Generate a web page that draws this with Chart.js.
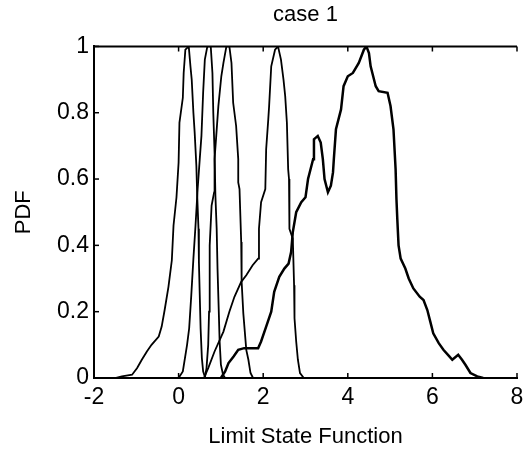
<!DOCTYPE html>
<html>
<head>
<meta charset="utf-8">
<script src="https://cdn.jsdelivr.net/npm/chart.js@4/dist/chart.umd.min.js"></script>
<style>
  html, body { margin: 0; padding: 0; background: #fff; }
  #wrap { width: 523px; height: 452px; }
</style>
</head>
<body>
<div id="wrap"><canvas id="chart-pdf" width="523" height="452"></canvas></div>
<script>
const xTicks = [-2, 0, 2, 4, 6, 8];
const yTicks = [0, 0.2, 0.4, 0.6, 0.8, 1];

// five PDF curves, each scaled to a peak of 1
const curveAX = [-1.5, -1.34, -1.2, -1.1, -0.98, -0.87, -0.75, -0.64, -0.47, -0.4, -0.33, -0.24, -0.16, -0.12, -0.05, 0.0, 0.02, 0.1, 0.12, 0.16, 0.24, 0.28, 0.31, 0.35, 0.38, 0.42, 0.44, 0.47, 0.48, 0.5, 0.52, 0.55, 0.58, 0.63];
const curveAY = [0, 0.005, 0.008, 0.01, 0.03, 0.055, 0.08, 0.1, 0.125, 0.155, 0.205, 0.275, 0.355, 0.46, 0.545, 0.65, 0.77, 0.845, 0.92, 0.99, 1.0, 0.94, 0.9, 0.8, 0.74, 0.64, 0.55, 0.45, 0.35, 0.25, 0.15, 0.06, 0.02, 0];

const curveBX = [0.0, 0.1, 0.2, 0.25, 0.3, 0.35, 0.4, 0.45, 0.5, 0.54, 0.58, 0.62, 0.68, 0.76, 0.8, 0.82, 0.85, 0.87, 0.9, 0.92, 0.95, 0.97, 1.0, 1.05, 1.1];
const curveBY = [0, 0.02, 0.1, 0.15, 0.25, 0.36, 0.46, 0.57, 0.66, 0.73, 0.86, 0.96, 1.0, 1.0, 0.92, 0.8, 0.68, 0.55, 0.45, 0.33, 0.2, 0.11, 0.04, 0.01, 0];

const curveCX = [0.62, 0.66, 0.7, 0.72, 0.73, 0.74, 0.78, 0.84, 0.85, 0.89, 0.94, 1.01, 1.06, 1.13, 1.2, 1.25, 1.29, 1.36, 1.41, 1.41, 1.44, 1.48, 1.49, 1.53, 1.6, 1.65, 1.7, 1.76];
const curveCY = [0, 0.03, 0.1, 0.2, 0.33, 0.4, 0.52, 0.56, 0.66, 0.73, 0.82, 0.91, 0.95, 1.0, 1.0, 0.95, 0.83, 0.76, 0.66, 0.59, 0.57, 0.41, 0.29, 0.195, 0.085, 0.055, 0.015, 0];

const curveDX = [0.6, 0.7, 0.85, 1.06, 1.2, 1.32, 1.48, 1.6, 1.75, 1.88, 1.9, 1.95, 2.05, 2.07, 2.12, 2.14, 2.19, 2.28, 2.35, 2.42, 2.48, 2.52, 2.56, 2.59, 2.61, 2.62, 2.7, 2.73, 2.74, 2.78, 2.82, 2.87, 2.96];
const curveDY = [0, 0.03, 0.08, 0.14, 0.2, 0.245, 0.29, 0.31, 0.34, 0.36, 0.45, 0.53, 0.57, 0.69, 0.78, 0.82, 0.94, 0.99, 1.0, 0.96, 0.9, 0.85, 0.77, 0.63, 0.6, 0.45, 0.42, 0.28, 0.18, 0.11, 0.055, 0.015, 0];

const curveEX = [1.0, 1.1, 1.18, 1.3, 1.41, 1.55, 1.88, 1.95, 2.07, 2.19, 2.26, 2.38, 2.5, 2.6, 2.66, 2.7, 2.78, 2.9, 3.0, 3.06, 3.18, 3.2, 3.29, 3.36, 3.41, 3.45, 3.53, 3.6, 3.65, 3.67, 3.72, 3.84, 3.9, 4.0, 4.12, 4.26, 4.38, 4.44, 4.5, 4.54, 4.66, 4.73, 4.94, 5.01, 5.08, 5.13, 5.15, 5.17, 5.2, 5.25, 5.36, 5.44, 5.55, 5.7, 5.79, 5.88, 5.95, 6.02, 6.15, 6.26, 6.4, 6.47, 6.61, 6.7, 6.78, 6.9, 7.06, 7.2];
const curveEY = [0, 0.02, 0.045, 0.065, 0.085, 0.09, 0.09, 0.11, 0.155, 0.2, 0.26, 0.305, 0.33, 0.345, 0.38, 0.44, 0.5, 0.53, 0.545, 0.6, 0.66, 0.72, 0.73, 0.71, 0.66, 0.6, 0.56, 0.58, 0.62, 0.66, 0.75, 0.81, 0.88, 0.91, 0.92, 0.95, 0.99, 1.0, 0.98, 0.94, 0.88, 0.865, 0.86, 0.82, 0.75, 0.63, 0.54, 0.48, 0.4, 0.36, 0.33, 0.3, 0.27, 0.245, 0.235, 0.205, 0.17, 0.135, 0.105, 0.085, 0.065, 0.055, 0.07, 0.055, 0.04, 0.015, 0.005, 0];

const curves = [
  [curveAX, curveAY],
  [curveBX, curveBY],
  [curveCX, curveCY],
  [curveDX, curveDY],
  [curveEX, curveEY]
];

const FONT = "'Liberation Sans', Arial, sans-serif";

// inward tick marks plus the top frame line
const frameTicks = {
  id: "frameTicks",
  afterDraw(chart) {
    const { ctx, chartArea } = chart;
    const xs = chart.scales.x;
    const ys = chart.scales.y;
    ctx.save();
    ctx.strokeStyle = "#000";
    ctx.lineWidth = 2;
    ctx.beginPath();
    ctx.moveTo(chartArea.left - 1, chartArea.top);
    ctx.lineTo(chartArea.right, chartArea.top);
    ctx.stroke();
    ctx.lineWidth = 1.5;
    xTicks.forEach(v => {
      const px = xs.getPixelForValue(v);
      ctx.beginPath();
      ctx.moveTo(px, chartArea.bottom);
      ctx.lineTo(px, chartArea.bottom - 5);
      ctx.moveTo(px, chartArea.top);
      ctx.lineTo(px, chartArea.top + 5);
      ctx.stroke();
    });
    yTicks.forEach(v => {
      const py = ys.getPixelForValue(v);
      ctx.beginPath();
      ctx.moveTo(chartArea.left, py);
      ctx.lineTo(chartArea.left + 5, py);
      ctx.stroke();
    });
    ctx.restore();
  }
};

new Chart(document.getElementById("chart-pdf").getContext("2d"), {
  type: "line",
  data: {
    datasets: curves.map(([xs, ys], i) => ({
      data: xs.map((x, k) => ({ x, y: ys[k] })),
      borderColor: "#000",
      borderWidth: i === 4 ? 2.5 : 1.8,
      pointRadius: 0,
      tension: 0,
      fill: false
    }))
  },
  options: {
    responsive: false,
    animation: false,
    layout: { padding: { left: 0, right: 6, top: 0, bottom: 0 } },
    plugins: {
      legend: { display: false },
      tooltip: { enabled: false },
      title: {
        display: true,
        text: "case 1",
        fullSize: false,
        color: "#000",
        font: { family: FONT, size: 22, weight: "normal" },
        padding: { top: 2, bottom: 18 }
      }
    },
    scales: {
      x: {
        type: "linear",
        min: -2,
        max: 8,
        afterBuildTicks: scale => { scale.ticks = xTicks.map(v => ({ value: v })); },
        afterFit: scale => { scale.height = 74; scale.paddingLeft = 0; scale.paddingRight = 0; },
        grid: { display: false, drawTicks: false },
        border: { display: true, color: "#000", width: 2 },
        ticks: { color: "#000", padding: 6, maxRotation: 0, font: { family: FONT, size: 23 } },
        title: {
          display: true,
          text: "Limit State Function",
          color: "#000",
          font: { family: FONT, size: 22 },
          padding: { top: 0, bottom: 2 }
        }
      },
      y: {
        min: 0,
        max: 1,
        afterBuildTicks: scale => { scale.ticks = yTicks.map(v => ({ value: v })); },
        afterFit: scale => { scale.width = 94; },
        grid: { display: false, drawTicks: false },
        border: { display: true, color: "#000", width: 2 },
        ticks: {
          color: "#000",
          padding: 5,
          font: { family: FONT, size: 23 },
          callback: value => String(Number(value.toFixed(1)))
        },
        title: {
          display: true,
          text: "PDF",
          color: "#000",
          font: { family: FONT, size: 22 },
          padding: { top: 11, bottom: 0 }
        }
      }
    }
  },
  plugins: [frameTicks]
});
</script>
</body>
</html>
